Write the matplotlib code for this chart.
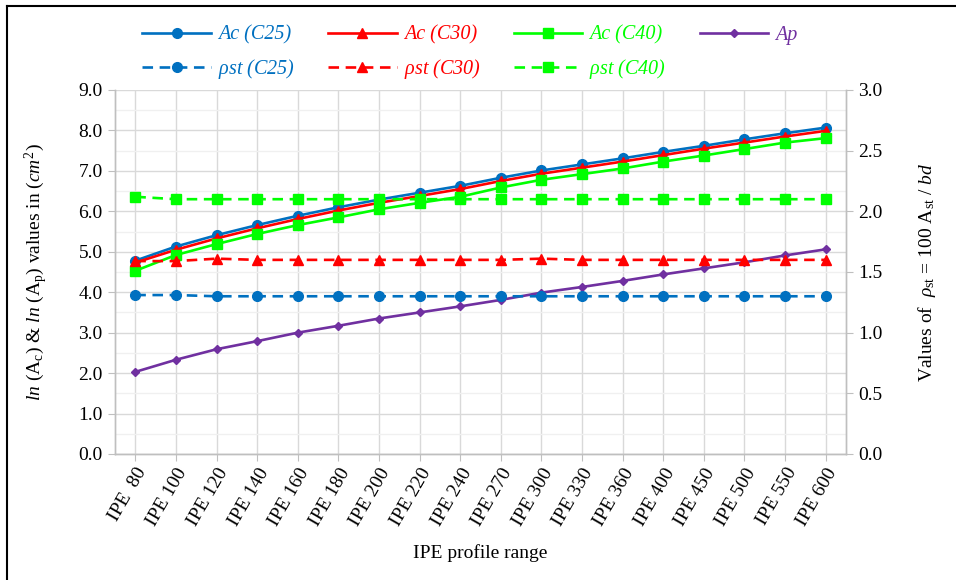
import matplotlib
matplotlib.use("Agg")
import matplotlib.pyplot as plt
from matplotlib.lines import Line2D
from matplotlib.ticker import MultipleLocator

plt.rcParams['font.family'] = ['Liberation Serif', 'DejaVu Serif']
plt.rcParams['mathtext.fontset'] = 'custom'
plt.rcParams['mathtext.rm'] = 'Liberation Serif'
plt.rcParams['mathtext.it'] = 'Liberation Serif:italic'
plt.rcParams['mathtext.bf'] = 'Liberation Serif:bold'

profiles = ["IPE  80", "IPE 100", "IPE 120", "IPE 140", "IPE 160", "IPE 180",
            "IPE 200", "IPE 220", "IPE 240", "IPE 270", "IPE 300", "IPE 330",
            "IPE 360", "IPE 400", "IPE 450", "IPE 500", "IPE 550", "IPE 600"]

ac_c25 = [4.78, 5.13, 5.41, 5.66, 5.89, 6.10, 6.29, 6.46, 6.63, 6.83, 7.01, 7.16,
          7.31, 7.47, 7.62, 7.78, 7.93, 8.07]
ac_c30 = [4.73, 5.05, 5.33, 5.58, 5.81, 6.02, 6.21, 6.38, 6.55, 6.75, 6.93, 7.08,
          7.23, 7.39, 7.55, 7.70, 7.85, 7.99]
ac_c40 = [4.53, 4.92, 5.19, 5.44, 5.66, 5.85, 6.05, 6.21, 6.36, 6.59, 6.78, 6.92,
          7.06, 7.23, 7.38, 7.54, 7.70, 7.81]
ap = [2.03, 2.33, 2.59, 2.79, 3.00, 3.17, 3.35, 3.50, 3.65, 3.81, 3.99, 4.13,
      4.28, 4.44, 4.59, 4.74, 4.91, 5.06]

rho_c25 = [1.31, 1.31, 1.30, 1.30, 1.30, 1.30, 1.30, 1.30, 1.30, 1.30, 1.30, 1.30,
           1.30, 1.30, 1.30, 1.30, 1.30, 1.30]
rho_c30 = [1.59, 1.59, 1.61, 1.60, 1.60, 1.60, 1.60, 1.60, 1.60, 1.60, 1.61, 1.60,
           1.60, 1.60, 1.60, 1.60, 1.60, 1.60]
rho_c40 = [2.12, 2.10, 2.10, 2.10, 2.10, 2.10, 2.10, 2.10, 2.10, 2.10, 2.10, 2.10,
           2.10, 2.10, 2.10, 2.10, 2.10, 2.10]

BLUE = "#0070C0"
RED = "#FF0000"
GREEN = "#00FF00"
PURPLE = "#7030A0"
GRID = "#D9D9D9"
MINOR = "#F0F0F0"
SPINE = "#BFBFBF"

fig = plt.figure(figsize=(9.56, 5.8), dpi=100)
ax = fig.add_axes([115/956, 1-454/580, (846-115)/956, (454-90)/580])
ax2 = ax.twinx()

x = list(range(len(profiles)))
lw = 1.9
ms = 7

l1, = ax.plot(x, ac_c25, color=BLUE, lw=lw, marker='o', ms=ms, label='Ac (C25)', zorder=5)
l2, = ax.plot(x, ac_c30, color=RED, lw=lw, marker='^', ms=ms, label='Ac (C30)', zorder=5)
l3, = ax.plot(x, ac_c40, color=GREEN, lw=lw, marker='s', ms=ms, label='Ac (C40)', zorder=5)
l4, = ax.plot(x, ap, color=PURPLE, lw=lw, marker='D', ms=4.5, label='Ap', zorder=5)

dash = (4, 2.5)
d1, = ax2.plot(x, rho_c25, color=BLUE, lw=lw, ls=(0, dash), marker='o', ms=ms, label=r'$\rho$st (C25)')
d2, = ax2.plot(x, rho_c30, color=RED, lw=lw, ls=(0, dash), marker='^', ms=ms, label=r'$\rho$st (C30)')
d3, = ax2.plot(x, rho_c40, color=GREEN, lw=lw, ls=(0, dash), marker='s', ms=ms, label=r'$\rho$st (C40)')

ax.set_xlim(-0.5, len(profiles) - 0.5)
ax.set_ylim(0, 9)
ax2.set_ylim(0, 3)

ax.yaxis.set_major_locator(MultipleLocator(1.0))
ax.yaxis.set_minor_locator(MultipleLocator(0.5))
ax2.yaxis.set_major_locator(MultipleLocator(0.5))
ax.yaxis.set_major_formatter(matplotlib.ticker.FormatStrFormatter('%.1f'))
ax2.yaxis.set_major_formatter(matplotlib.ticker.FormatStrFormatter('%.1f'))

ax.set_xticks(x)
ax.set_xticklabels(profiles, rotation=60, ha='right', rotation_mode='anchor', fontsize=14)
ax.tick_params(axis='x', length=5, color=SPINE, pad=3)
ax.tick_params(axis='y', which='major', length=5, color=SPINE, labelsize=14, pad=4)
ax.tick_params(axis='y', which='minor', length=0)
ax2.tick_params(axis='y', length=5, color=SPINE, labelsize=14, pad=4)

ax.grid(True, which='major', axis='both', color=GRID, lw=1.0, zorder=0)
ax.grid(True, which='minor', axis='y', color=MINOR, lw=1.0, zorder=0)
ax.set_axisbelow(True)

for a in (ax, ax2):
    for s in a.spines.values():
        s.set_color(SPINE)
        s.set_linewidth(1.0)
    a.spines['top'].set_visible(False)

ax.set_xlabel('IPE profile range', fontsize=14, labelpad=11)
ax.set_ylabel(r'$\mathit{ln}$ (A$_\mathrm{c}$) & $\mathit{ln}$ (A$_\mathrm{p}$) values in ($\mathit{cm}^2$)',
              fontsize=14, labelpad=20)
ax2.set_ylabel(r'Values of  $\rho_{\mathrm{st}}$ = 100 A$_{\mathrm{st}}$ / $\mathit{bd}$',
               fontsize=14, labelpad=24)

handles = [l1, d1, l2, d2, l3, d3, l4]
leg = fig.legend(handles=handles, ncol=4, loc='center', bbox_to_anchor=(470/956, 1-53/580),
                 frameon=False, prop={'family': 'Liberation Serif', 'style': 'italic', 'size': 14.5},
                 handlelength=3.4, handletextpad=0.35, columnspacing=1.65, labelspacing=0.6)
for txt, h in zip(leg.get_texts(), handles):
    txt.set_color(h.get_color())

# figure frame lines (top and left)
fig.add_artist(Line2D([7/956, 1.0], [1-6/580, 1-6/580], color='black', lw=1.5, transform=fig.transFigure))
fig.add_artist(Line2D([7/956, 7/956], [0.0, 1-6/580], color='black', lw=1.5, transform=fig.transFigure))

fig.savefig('out.png', dpi=100)
